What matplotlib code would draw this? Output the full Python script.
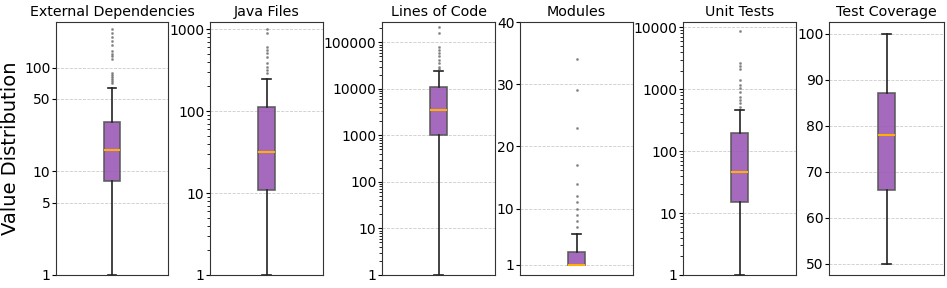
import numpy as np
import matplotlib
matplotlib.use("Agg")
import matplotlib.pyplot as plt
from matplotlib.ticker import FixedLocator, FixedFormatter, LogLocator, NullFormatter

# Data: box statistics
titles = ["External Dependencies", "Java Files", "Lines of Code",
          "Modules", "Unit Tests", "Test Coverage"]

q1 = [8, 11, 1000, 1, 15, 66]
medians = [16, 32, 3530, 1, 46, 78]
q3 = [30, 112, 10800, 3, 197, 87]
whis_lo = [1, 1, 1, 1, 1, 50]
whis_hi = [63, 246, 24900, 6, 469, 100]

fliers = [
    [71, 74, 77, 81, 84, 89, 121, 129, 136, 144, 164, 180, 196, 216, 237],
    [288, 316, 347, 381, 459, 505, 554, 608, 885, 990],
    [27000, 30300, 35700, 42000, 50000, 59000, 69000, 81000, 157000, 218000],
    [7, 8, 9, 10, 11, 12, 14, 17, 23, 29, 34],
    [525, 590, 670, 760, 910, 1040, 1180, 1410, 2120, 2380, 2690, 8800],
    [],
]

log_scale = [True, True, True, False, True, False]
ylims = [(1, 275), (1, 1220), (1, 275000), (-0.66, 40), (1, 12200), (47.5, 102.5)]
yticks = [
    [1, 5, 10, 50, 100],
    [1, 10, 100, 1000],
    [1, 10, 100, 1000, 10000, 100000],
    [1, 10, 20, 30, 40],
    [1, 10, 100, 1000, 10000],
    [50, 60, 70, 80, 90, 100],
]

# axes positions in pixels (left, right)
W, H = 947, 288
xpos = [(56, 168), (210, 323), (382, 495), (520, 633), (683, 796), (829, 944)]
top, bottom = 22, 275

fig = plt.figure(figsize=(W / 100, H / 100), dpi=100)

for i in range(6):
    l, r = xpos[i]
    ax = fig.add_axes([l / W, 1 - bottom / H, (r - l) / W, (bottom - top) / H])
    stats = [dict(med=medians[i], q1=q1[i], q3=q3[i], whislo=whis_lo[i],
                  whishi=whis_hi[i], fliers=fliers[i])]
    ax.bxp(stats, positions=[1], widths=0.15, patch_artist=True,
           boxprops=dict(facecolor="#9b59b6", edgecolor="#555555", alpha=0.9, linewidth=1.2),
           medianprops=dict(color="#ffb000", linewidth=1.5),
           whiskerprops=dict(color="#222222", linewidth=1.2),
           capprops=dict(color="#222222", linewidth=1.2),
           flierprops=dict(marker="o", markersize=1.1, markerfacecolor="#666666",
                           markeredgecolor="#666666", alpha=0.6))
    if log_scale[i]:
        ax.set_yscale("log")
        ax.yaxis.set_minor_locator(LogLocator(base=10, subs=np.arange(2, 10)))
        ax.yaxis.set_minor_formatter(NullFormatter())
    ax.set_ylim(*ylims[i])
    ax.yaxis.set_major_locator(FixedLocator(yticks[i]))
    ax.yaxis.set_major_formatter(FixedFormatter([str(t) for t in yticks[i]]))
    if i == 0:
        ax.yaxis.set_minor_locator(FixedLocator([]))
    ax.set_xlim(0.5, 1.5)
    ax.set_xticks([])
    ax.grid(axis="y", linestyle="--", color="#cccccc", linewidth=0.6)
    ax.set_axisbelow(True)
    ax.tick_params(axis="y", labelsize=10, length=3, pad=1)
    ax.set_title(titles[i], fontsize=10.3, pad=4)
    for s in ax.spines.values():
        s.set_color("#333333")
    if i == 0:
        ax.set_ylabel("Value Distribution", fontsize=14)
        ax.yaxis.set_label_coords(-0.32, 0.5)

fig.savefig("out.png", dpi=100)
